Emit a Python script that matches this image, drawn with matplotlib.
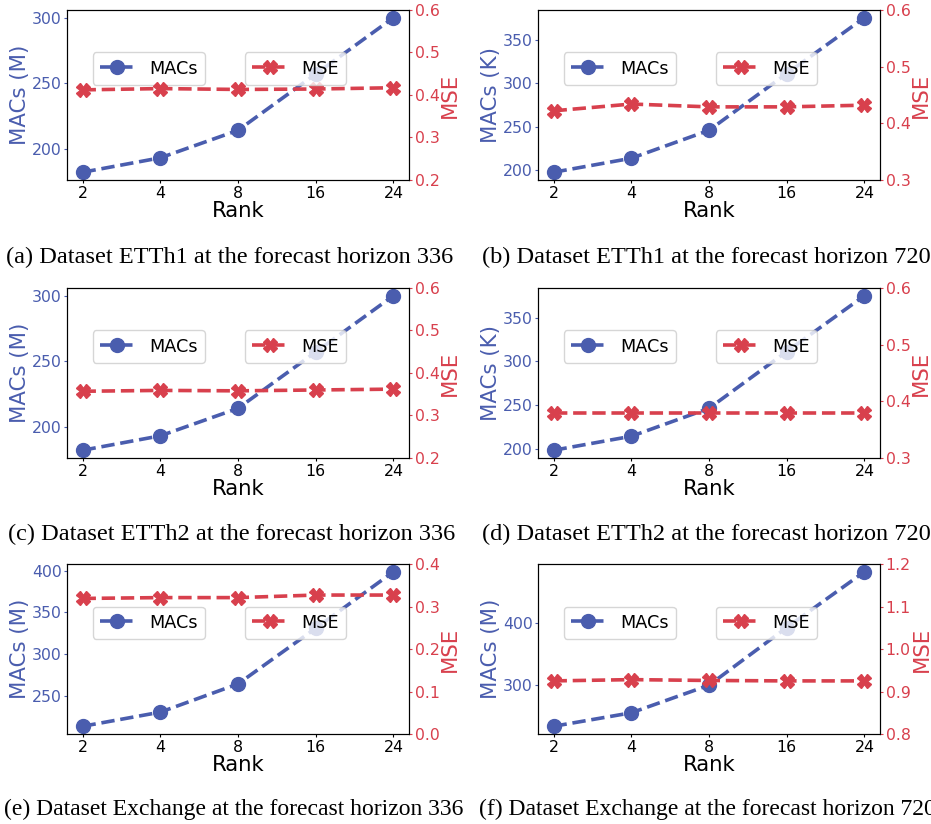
import numpy as np
import matplotlib.pyplot as plt

# ranks are equally spaced categories on the x axis
ranks = ['2', '4', '8', '16', '24']

# MACs per panel
macs_a = [182, 193, 214, 257, 300]
macs_b = [198, 214, 246, 311, 375]
macs_c = [182, 193, 214, 257, 300]
macs_d = [198, 214, 246, 311, 375]
macs_e = [213, 230, 264, 331, 399]
macs_f = [232, 254, 299, 393, 484]

# MSE per panel
mse_a = [0.412, 0.415, 0.413, 0.414, 0.417]
mse_b = [0.422, 0.434, 0.429, 0.429, 0.432]
mse_c = [0.357, 0.359, 0.358, 0.360, 0.362]
mse_d = [0.380, 0.380, 0.380, 0.380, 0.380]
mse_e = [0.319, 0.321, 0.321, 0.327, 0.327]
mse_f = [0.925, 0.928, 0.926, 0.925, 0.925]

macs_units = ['MACs (M)', 'MACs (K)', 'MACs (M)', 'MACs (K)', 'MACs (M)', 'MACs (M)']
mse_lims = [(0.2, 0.6), (0.3, 0.6), (0.2, 0.6), (0.3, 0.6), (0.0, 0.4), (0.8, 1.2)]
captions = ['(a) Dataset ETTh1 at the forecast horizon 336',
            '(b) Dataset ETTh1 at the forecast horizon 720',
            '(c) Dataset ETTh2 at the forecast horizon 336',
            '(d) Dataset ETTh2 at the forecast horizon 720',
            '(e) Dataset Exchange at the forecast horizon 336',
            '(f) Dataset Exchange at the forecast horizon 720']

all_macs = [macs_a, macs_b, macs_c, macs_d, macs_e, macs_f]
all_mse = [mse_a, mse_b, mse_c, mse_d, mse_e, mse_f]

blue = '#4A5DAE'
red = '#D8404D'

fig = plt.figure(figsize=(9.31, 8.24), dpi=100)

lefts = [0.0720, 0.5779]
bottoms = [0.7816, 0.4442, 0.1092]
cap_y = [0.6808, 0.3447, 0.0105]
cap_x = [0.247, 0.759, 0.249, 0.759, 0.2513, 0.760]
cap_size = [17.5, 17.5, 17.5, 17.5, 17.0, 17.0]
w, h = 0.3673, 0.2063

x = np.arange(len(ranks))

for i in range(6):
    r, c = divmod(i, 2)
    ax = fig.add_axes([lefts[c], bottoms[r], w, h])
    ax2 = ax.twinx()

    l1, = ax.plot(x, all_macs[i], '--o', color=blue, lw=2.6, ms=10, label='MACs')
    l2, = ax2.plot(x, all_mse[i], '--X', color=red, lw=2.6, ms=10, label='MSE')

    ax.set_xticks(x)
    ax.set_xticklabels(ranks, fontsize=11.3)
    ax.set_xlabel('Rank', fontsize=15.3, labelpad=0)
    ax.set_ylabel(macs_units[i], color=blue, fontsize=15.3, labelpad=1)
    ax2.set_ylabel('MSE', color=red, fontsize=15.3, labelpad=0.5)
    ax.tick_params(axis='x', length=2, pad=2)
    ax.tick_params(axis='y', colors=blue, labelsize=11.3, length=2, pad=2)
    ax2.tick_params(axis='y', colors=red, labelsize=11.3, length=2, pad=2)
    ax2.set_ylim(*mse_lims[i])
    if i == 5:
        ax.set_yticks([300, 400])

    ax.legend(handles=[l1], loc='upper left', bbox_to_anchor=(0.075, 0.75),
              borderaxespad=0, fontsize=12.7)
    ax2.legend(handles=[l2], loc='upper left', bbox_to_anchor=(0.52, 0.75),
               borderaxespad=0, fontsize=12.7)

    fig.text(cap_x[i], cap_y[r], captions[i], ha='center', va='baseline',
             family='Liberation Serif', fontsize=cap_size[i])

fig.savefig('out.png', dpi=100)
